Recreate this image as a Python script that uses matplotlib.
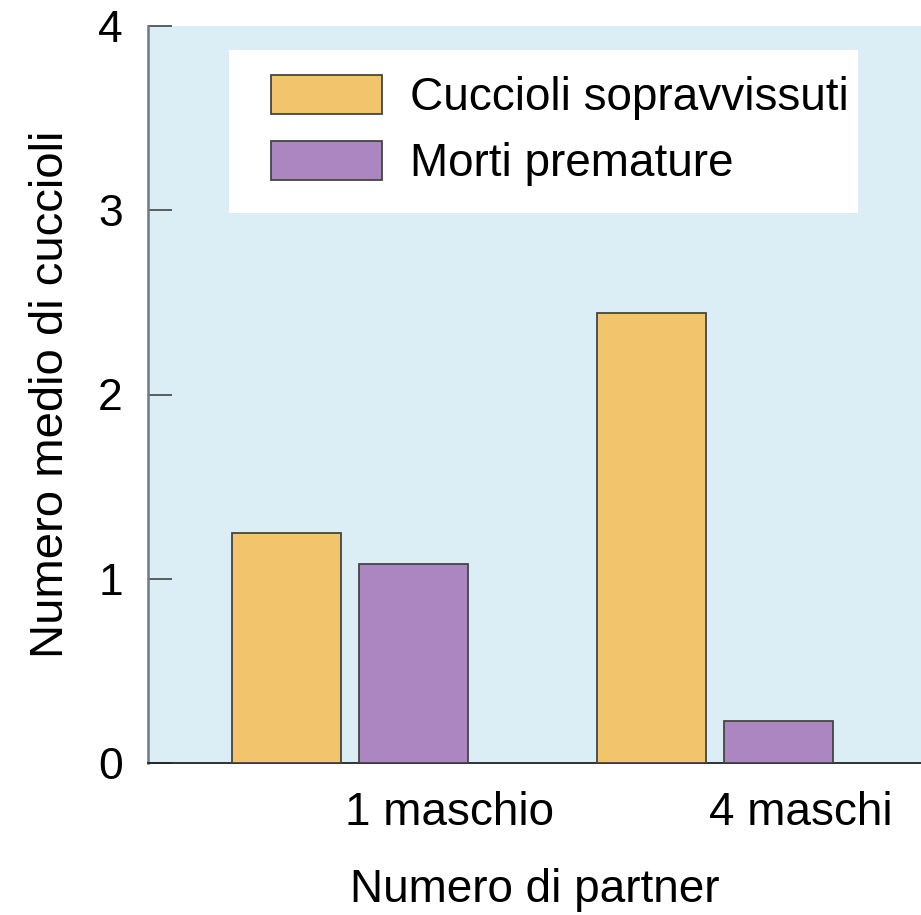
import matplotlib.pyplot as plt
from matplotlib.patches import Rectangle

# data
groups = ["1 maschio", "4 maschi"]
survived = [1.25, 2.44]
early_deaths = [1.08, 0.23]
series_labels = ["Cuccioli sopravvissuti", "Morti premature"]
y_ticks = [0, 1, 2, 3, 4]

plt.rcParams['font.family'] = ['Liberation Sans', 'DejaVu Sans']

fig = plt.figure(figsize=(9.21, 9.15), dpi=100)
ax = fig.add_axes([148 / 921, 152 / 915, 773 / 921, 737 / 915])
ax.set_facecolor("#dbeef6")

x = [0, 1]
width = 0.30
off = 0.174
ax.bar([i - off for i in x], survived, width, color="#f2c46b",
       edgecolor="#454545", linewidth=1.3, label=series_labels[0], zorder=3)
ax.bar([i + off for i in x], early_deaths, width, color="#ab86c0",
       edgecolor="#454545", linewidth=1.3, label=series_labels[1], zorder=3)

ax.set_xlim(-0.553, 1.564)
ax.set_ylim(0, 4)
ax.set_yticks(y_ticks)
# the group labels sit to the right of each pair of bars
ax.set_xticks([0.274, 1.236])
ax.set_xticklabels(groups)

ax.spines['top'].set_visible(False)
ax.spines['right'].set_visible(False)
ax.spines['left'].set_color("#6b7b85")
ax.spines['left'].set_linewidth(1.8)
ax.spines['bottom'].set_color("#222222")
ax.spines['bottom'].set_linewidth(1.3)

ax.tick_params(axis='y', direction='in', length=17, width=1.2, color="#444444",
               labelsize=32, pad=18)
ax.tick_params(axis='x', length=0, labelsize=33, pad=20)

ax.set_ylabel("Numero medio di cuccioli", fontsize=34, labelpad=18)
ax.set_xlabel("Numero di partner", fontsize=33, labelpad=24)

# white box behind the legend
box = Rectangle((0.1048, 0.7463), 0.8137, 0.2211, transform=ax.transAxes,
                facecolor="white", edgecolor="none", zorder=4)
ax.add_patch(box)

leg = ax.legend(loc='upper left', bbox_to_anchor=(0.159, 0.934), frameon=False,
                fontsize=33, handlelength=2.42, handleheight=0.95,
                handletextpad=0.61, labelspacing=0.45, borderpad=0, borderaxespad=0)
leg.set_zorder(5)

fig.savefig("out.png", dpi=100)
